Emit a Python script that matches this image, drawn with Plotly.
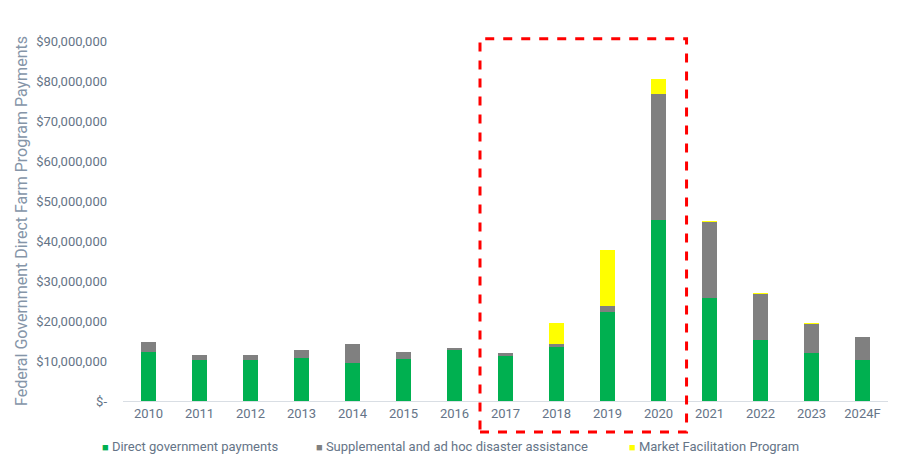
import plotly.graph_objects as go

years = ["2010", "2011", "2012", "2013", "2014", "2015", "2016", "2017",
         "2018", "2019", "2020", "2021", "2022", "2023", "2024F"]
direct = [12.25, 10.25, 10.25, 10.75, 9.4, 10.4, 12.75, 11.25,
          13.5, 22.25, 45.25, 25.75, 15.25, 12.0, 10.25]
supplemental = [2.5, 1.25, 1.25, 2.0, 4.85, 1.85, 0.5, 0.85,
                0.8, 1.55, 31.5, 19.0, 11.5, 7.25, 5.75]
mfp = [0, 0, 0, 0, 0, 0, 0, 0,
       5.2, 14.0, 3.75, 0.25, 0.25, 0.25, 0]
scale = 1_000_000
tick_vals = [0, 10, 20, 30, 40, 50, 60, 70, 80, 90]
tick_text = ["$-"] + [f"${v * scale:,.0f}" for v in tick_vals[1:]]

series_names = ["Direct government payments",
                "Supplemental and ad hoc disaster assistance",
                "Market Facilitation Program"]
series_colors = ["#00B050", "#808080", "#FFFF00"]
series_values = [direct, supplemental, mfp]
legend_x = [-0.030, 0.250, 0.659]

TXT = "#657487"

fig = go.Figure()
for name, vals, color in zip(series_names, series_values, series_colors):
    fig.add_trace(go.Bar(
        x=years, y=[v * scale for v in vals], name=name,
        marker=dict(color=color, line=dict(width=0)),
        width=0.31,
    ))

for name, color, lx in zip(series_names, series_colors, legend_x):
    fig.add_annotation(
        xref="paper", yref="paper", x=lx, y=-0.125,
        xanchor="left", yanchor="middle", showarrow=False,
        text=f"<span style='color:{color};font-size:11px'>■</span> {name}",
        font=dict(family="Roboto", size=13, color=TXT),
    )

fig.add_shape(type="rect", xref="x", yref="paper",
              x0=6.5, x1=10.55, y0=-0.086, y1=1.006,
              line=dict(color="#FF0000", width=3, dash="dash"),
              fillcolor="rgba(0,0,0,0)")

# page body has an 8px default margin, so the figure is 8px smaller and margins shifted
fig.update_layout(
    width=890, height=457,
    barmode="stack",
    paper_bgcolor="white", plot_bgcolor="white",
    margin=dict(l=115, r=10, t=33, b=64),
    font=dict(family="Roboto", size=13, color=TXT),
    showlegend=False,
    xaxis=dict(showgrid=False, showline=True, linecolor="#D9DEE4", linewidth=1,
               ticks="", automargin=False, tickfont=dict(size=13, color=TXT)),
    yaxis=dict(range=[0, 90 * scale], tickvals=[v * scale for v in tick_vals],
               ticktext=tick_text, showgrid=False, zeroline=False, automargin=False,
               tickfont=dict(size=13, color=TXT), ticklabelstandoff=15,
               title=dict(text="Federal Government Direct Farm Program Payments",
                          font=dict(size=16, color="#8595A8"), standoff=4)),
)
fig.write_html("out.html")
